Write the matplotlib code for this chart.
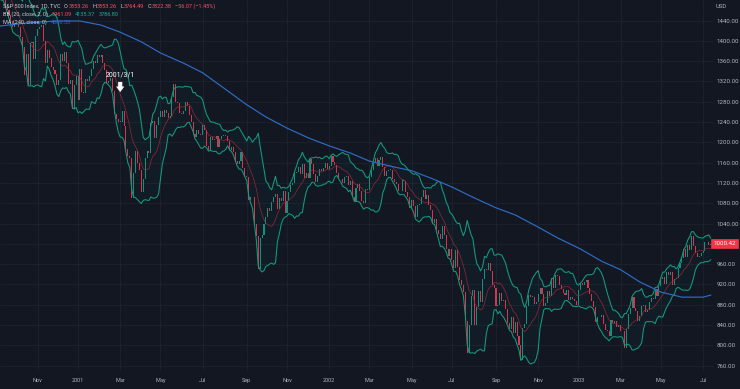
import numpy as np
import pandas as pd
import matplotlib
matplotlib.use("Agg")
import matplotlib.pyplot as plt
from matplotlib.transforms import blended_transform_factory

plt.rcParams['font.family'] = ['Roboto', 'DejaVu Sans']

# S&P 500, one candle per 2 trading days, first bar starts 2000-08-14
first_day = "2000-08-14"
closes = [
    1491, 1484, 1492, 1498, 1506, 1514, 1510,                                # Aug 2000
    1518, 1505, 1500, 1488, 1482, 1466, 1460, 1450, 1440, 1428, 1436,        # Sep
    1434, 1428, 1408, 1387, 1332, 1374, 1312, 1396, 1398, 1365, 1410,        # Oct
    1424, 1428, 1431, 1400, 1356, 1382, 1367, 1348, 1342, 1335, 1312,        # Nov
    1322, 1374, 1360, 1378, 1356, 1314, 1322, 1266, 1312, 1330,              # Dec
    1283, 1345, 1300, 1298, 1324, 1320, 1330, 1344, 1360, 1356, 1372, 1368,  # Jan 2001
    1373, 1356, 1342, 1316, 1320, 1326, 1302, 1256, 1246, 1241,              # Feb
    1241, 1262, 1233, 1186, 1173, 1170, 1090, 1140, 1182, 1160, 1145,        # Mar
    1103, 1128, 1169, 1183, 1179, 1238, 1242, 1209, 1234, 1249,              # Apr
    1262, 1250, 1264, 1258, 1248, 1252, 1290, 1314, 1280, 1278, 1258, 1256,  # May
    1262, 1280, 1272, 1254, 1240, 1216, 1210, 1224, 1216, 1214,              # Jun
    1234, 1224, 1192, 1184, 1210, 1204, 1206, 1212, 1190, 1206, 1212,        # Jul
    1214, 1212, 1202, 1184, 1190, 1180, 1164, 1158, 1164, 1180, 1150, 1134,  # Aug
    1131, 1086, 1092, 1092, 1040, 1016, 950, 1012, 1018, 1040,               # Sep
    1052, 1070, 1064, 1082, 1092, 1098, 1068, 1090, 1084, 1104, 1060,        # Oct
    1084, 1102, 1116, 1120, 1140, 1142, 1152, 1138, 1157, 1130, 1140,        # Nov
    1130, 1168, 1158, 1138, 1122, 1134, 1148, 1144, 1150, 1160, 1148,        # Dec
    1154, 1174, 1162, 1156, 1140, 1128, 1128, 1120, 1132, 1134, 1116,        # Jan 2002
    1124, 1092, 1082, 1110, 1118, 1104, 1084, 1080, 1108, 1106,              # Feb
    1132, 1146, 1160, 1170, 1154, 1166, 1172, 1152, 1134, 1144, 1146,        # Mar
    1146, 1128, 1122, 1118, 1104, 1104, 1126, 1124, 1102, 1092, 1070,        # Apr
    1086, 1074, 1052, 1076, 1078, 1092, 1106, 1088, 1096, 1076, 1066,        # May
    1042, 1048, 1028, 1020, 1010, 1036, 1018, 990, 976, 990,                 # Jun
    968, 952, 988, 954, 928, 918, 905, 848, 785, 840, 898, 910,              # Jul
    840, 876, 908, 886, 930, 950, 948, 962, 946, 918, 914,                   # Aug
    878, 880, 904, 888, 890, 872, 845, 832, 856, 824,                        # Sep
    847, 818, 800, 772, 835, 842, 878, 900, 896, 896, 882, 886,              # Oct
    902, 914, 902, 878, 884, 908, 898, 932, 914, 938,                        # Nov
    936, 918, 912, 904, 900, 910, 890, 896, 892, 888, 880,                   # Dec
    909, 922, 918, 924, 928, 914, 901, 888, 876, 847, 856, 856,              # Jan 2003
    860, 842, 830, 828, 818, 850, 844, 848, 836, 840,                        # Feb
    829, 828, 795, 832, 862, 874, 895, 874, 868, 848,                        # Mar
    858, 878, 880, 866, 870, 886, 894, 892, 912, 898, 916,                   # Apr
    930, 935, 920, 945, 939, 944, 919, 931, 933, 953, 963,                   # May
    972, 990, 975, 997, 988, 1016, 995, 981, 975, 976, 982,                  # Jun
    985, 1004, 1003, 998, 1000.42,                                           # Jul
]

# MA(240)
ma_dates = ["2000-09-01", "2000-10-02", "2000-11-01", "2000-12-01", "2001-01-02",
            "2001-02-01", "2001-03-01", "2001-04-02", "2001-05-01", "2001-06-01",
            "2001-07-02", "2001-08-01", "2001-09-04", "2001-10-01", "2001-11-01",
            "2001-12-03", "2002-01-02", "2002-02-01", "2002-03-01", "2002-04-01",
            "2002-05-01", "2002-06-03", "2002-07-01", "2002-08-01", "2002-09-03",
            "2002-10-01", "2002-11-01", "2002-12-02", "2003-01-02", "2003-02-03",
            "2003-03-03", "2003-04-01", "2003-05-01", "2003-06-02", "2003-07-01",
            "2003-07-14"]
ma_values = [1428, 1433, 1437, 1439, 1439, 1431, 1417, 1398, 1376, 1356,
             1337, 1307, 1274, 1250, 1228, 1209, 1193, 1179, 1163, 1153,
             1144, 1128, 1112, 1090, 1071, 1057, 1033, 1012, 990, 966,
             949, 925, 905, 895, 895, 899]

price_ticks = list(range(760, 1441, 40))
month_abbr = {3: "Mar", 5: "May", 7: "Jul", 9: "Sep", 11: "Nov"}

legend_rows = [
    [("S&P 500 Index, 1D, TVC", "txt"), ("O", "txt"), ("3853.26", "red"), ("H", "txt"),
     ("3853.26", "red"), ("L", "txt"), ("3764.49", "red"), ("C", "txt"),
     ("3822.38", "red"), ("\u221256.07 (\u22121.45%)", "red")],
    [("BB (20, close, 2, 0)", "txt"), ("3961.09", "red"), ("4135.37", "grn"), ("3786.80", "grn")],
    [("MA (240, close, 0)", "txt"), ("4066.53", "blu")],
]
annot_date = "2001-03-01"
annot_label = "2001/3/1"

BG = "#131722"
GRID = "#1e2230"
TXT = "#b2b5be"
UP = "#089981"
DOWN = "#f23645"
palette = {"txt": "#c9ccd4", "red": "#f7525f", "grn": "#22ab94", "blu": "#2962ff"}

c = np.array(closes, dtype=float)
o = np.r_[c[0], c[:-1]]
n = len(c)
x = np.arange(n)
dates = pd.bdate_range(first_day, periods=2 * n)[::2]

s = pd.Series(c)
mid = s.rolling(10).mean()
sd = s.rolling(10).std(ddof=0)
upper = mid + 2 * sd
lower = mid - 2 * sd

W, H = 740, 389
XLIM = (9.3, 381.2)
fig = plt.figure(figsize=(W / 100, H / 100), dpi=100, facecolor=BG)
ax = fig.add_axes([0, 1 - 371 / H, 713 / W, 371 / H], facecolor=BG)

# grid
month_first = [i for i in x[1:] if dates[i].month != dates[i - 1].month]
tick_pos, tick_lab = [], []
for i in month_first:
    if i < XLIM[0]:
        continue
    m = dates[i].month
    if m == 1:
        tick_pos.append(i); tick_lab.append(str(dates[i].year))
    elif m in month_abbr:
        tick_pos.append(i); tick_lab.append(month_abbr[m])
for p in price_ticks:
    ax.axhline(p, color=GRID, lw=0.6, zorder=0)
for p in tick_pos:
    ax.axvline(p, color=GRID, lw=0.6, zorder=0)

# bollinger bands
ax.fill_between(x, lower, upper, color=UP, alpha=0.045, lw=0, zorder=1)
ax.plot(x, upper, color="#139c80", lw=0.75, zorder=3)
ax.plot(x, lower, color="#139c80", lw=0.75, zorder=3)
ax.plot(x, mid, color="#b8283a", lw=0.5, alpha=0.8, zorder=3)

# candles
cols = np.where(c >= o, "#14917a", "#d8344c")
body = np.maximum(np.abs(c - o), 0.6)
ax.bar(x, body, bottom=np.minimum(o, c), width=0.55, color=cols, lw=0, zorder=2)

# MA 240
ma_x = np.searchsorted(dates, pd.to_datetime(ma_dates))
ax.plot(ma_x, ma_values, color="#2e6cc4", lw=0.85, zorder=4)

ax.set_xlim(*XLIM)
ax.set_ylim(749.5, 1480.4)
for sp in ax.spines.values():
    sp.set_visible(False)

ax.set_xticks(tick_pos)
ax.set_xticklabels(tick_lab)
ax.yaxis.tick_right()
ax.set_yticks(price_ticks)
# the last-price tag covers the 1000 label
ax.set_yticklabels(["" if abs(p - closes[-1]) < 15 else f"{p:.2f}" for p in price_ticks])
ax.tick_params(axis="x", length=0, pad=5, labelsize=4.0, labelcolor=TXT)
ax.tick_params(axis="y", length=0, pad=2.5, labelsize=4.4, labelcolor=TXT)
fig.text(716 / W, 1 - 6 / H, "USD", color=TXT, fontsize=4.2, ha="left", va="center")

# last price tag
tr = blended_transform_factory(ax.transAxes, ax.transData)
ax.text(1.0, closes[-1], f"{closes[-1]:.2f}", transform=tr, ha="left", va="center",
        fontsize=4.4, color="white", clip_on=False, zorder=6,
        bbox=dict(boxstyle="square,pad=0.35", fc=DOWN, ec=DOWN, lw=0.5))

# annotation
ai = int(np.searchsorted(dates, pd.Timestamp(annot_date)))
ax.text(ai, 1333, annot_label, color="white", fontsize=5, ha="center", va="center", zorder=7)
ax.annotate("", xy=(ai, 1299), xytext=(ai, 1319), zorder=7,
            arrowprops=dict(arrowstyle="simple,head_length=0.4,head_width=0.6,tail_width=0.3",
                            fc="white", ec="white", lw=0, shrinkA=0, shrinkB=0))

# legend rows
for r, row in enumerate(legend_rows):
    prev = fig.text(3 / W, 1 - (6 + 8.3 * r) / H, row[0][0], color=palette[row[0][1]],
                    fontsize=4.0, ha="left", va="center")
    prev_txt = row[0][0]
    for txt, key in row[1:]:
        gap = 0.3 if len(prev_txt) == 1 else 2.6
        prev = ax.annotate(txt, xy=(1, 0.5), xycoords=prev, xytext=(gap, 0),
                           textcoords="offset points", ha="left", va="center",
                           color=palette[key], fontsize=4.0, annotation_clip=False)
        prev_txt = txt

fig.savefig("out.png", dpi=100, facecolor=BG)
